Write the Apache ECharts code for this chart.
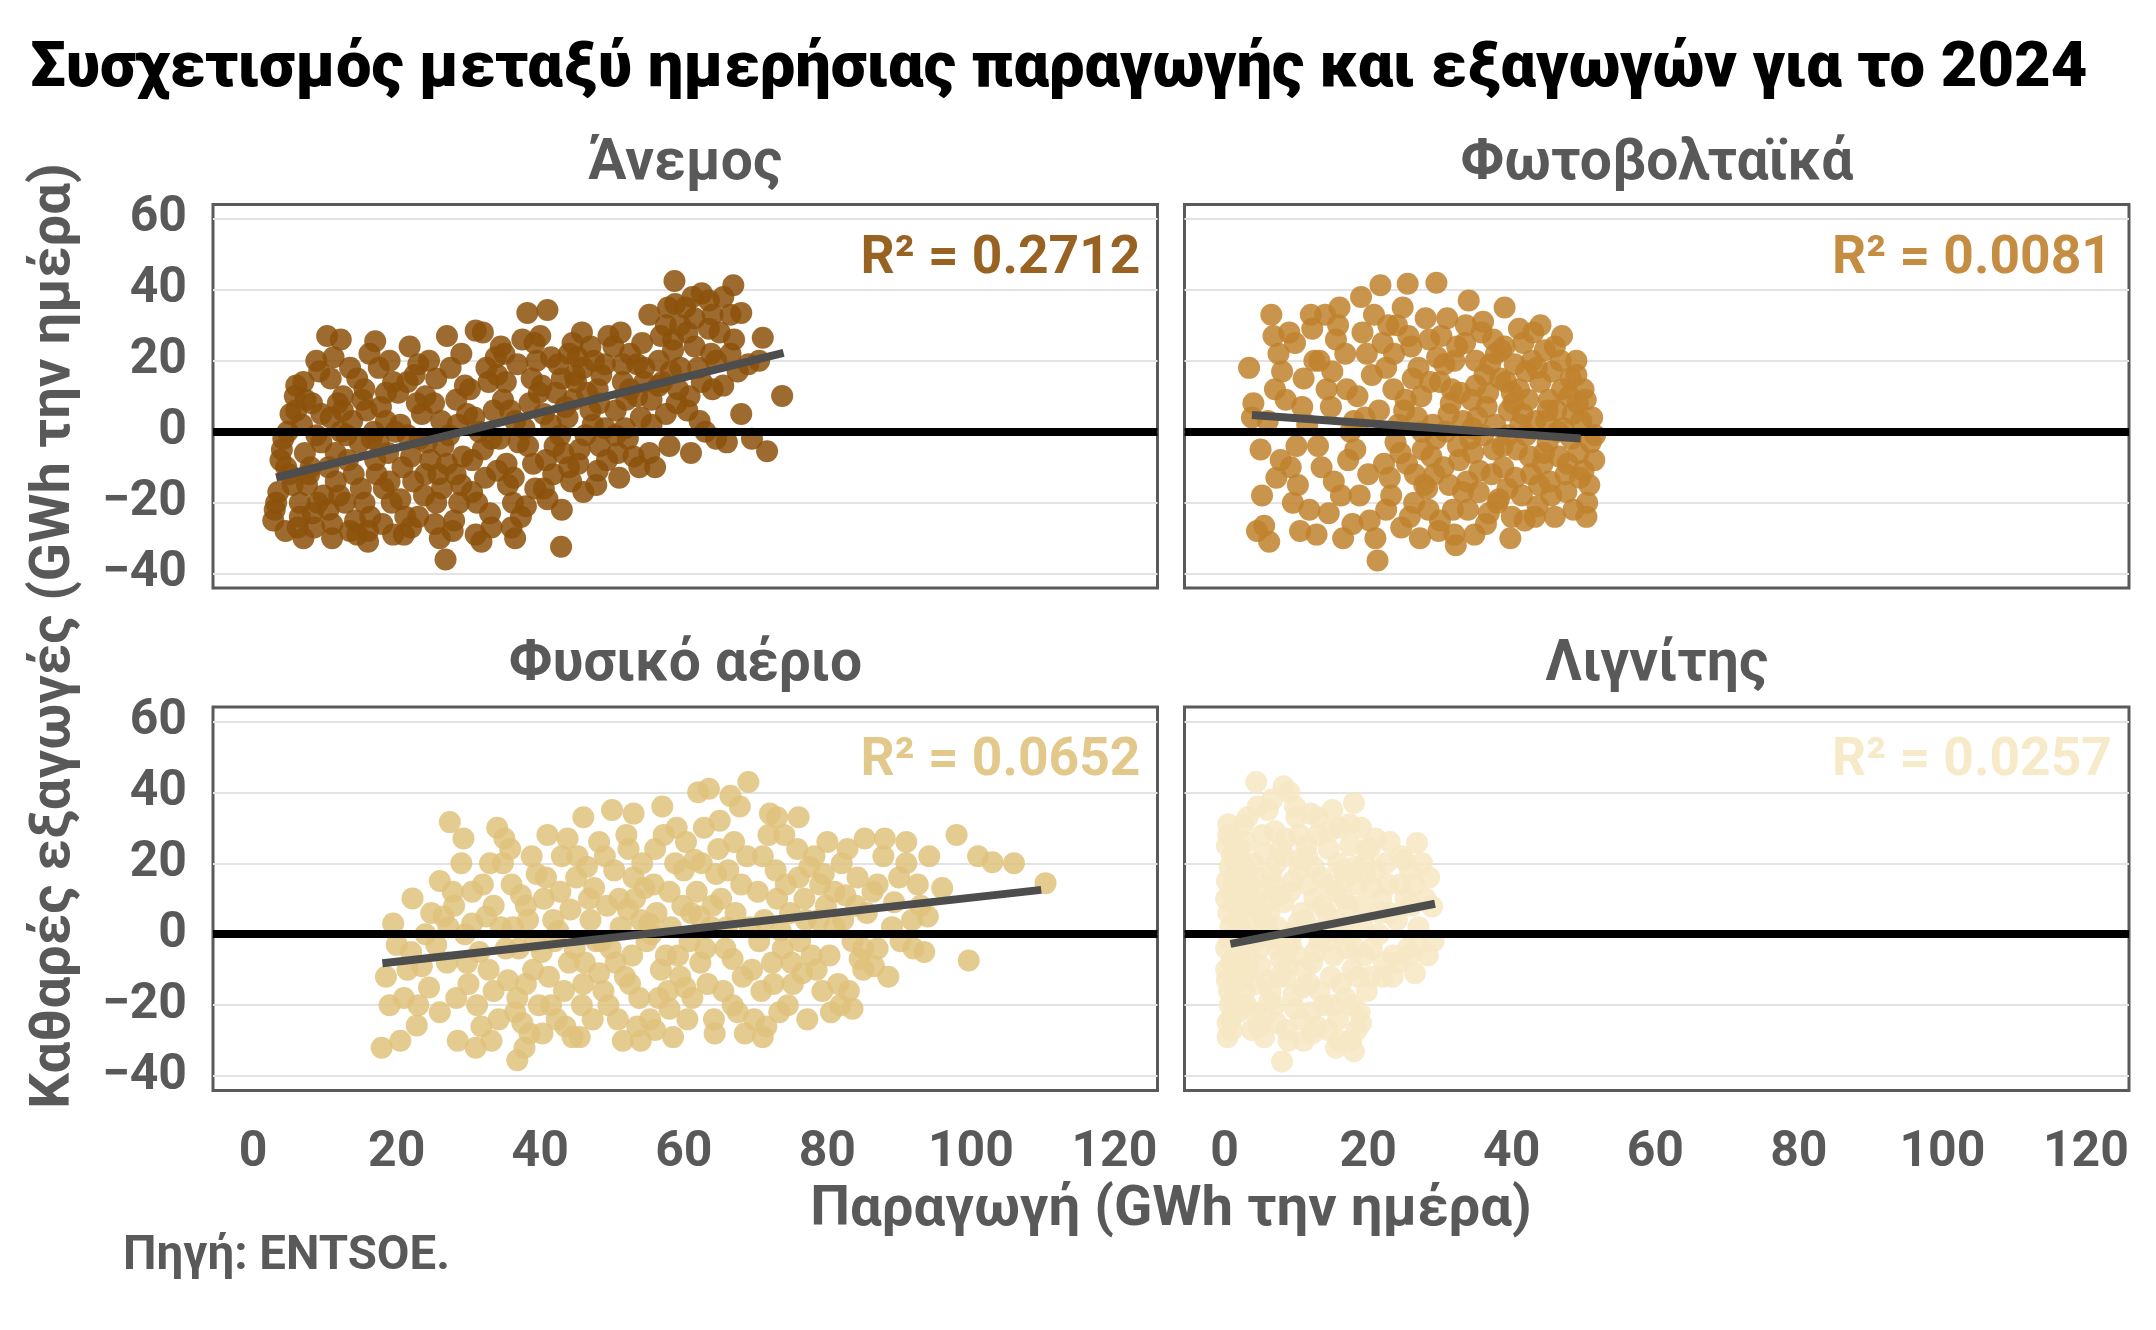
<!DOCTYPE html>
<html lang="el">
  <head>
    <meta charset="UTF-8" />
    <title>Συσχετισμός παραγωγής και εξαγωγών 2024</title>
    <script src="https://cdn.jsdelivr.net/npm/echarts@6/dist/echarts.min.js"></script>
    <style>
      html,
      body {
        margin: 0;
        padding: 0;
        background: #fff;
      }
      #scatterChart {
        width: 2156px;
        height: 1330px;
      }
    </style>
  </head>
  <body>
    <div id="scatterChart"></div>
    <script>
      // ---- data ----
      var panelNames = ['Άνεμος', 'Φωτοβολταϊκά', 'Φυσικό αέριο', 'Λιγνίτης'];
      var rSquared = ['0.2712', '0.0081', '0.0652', '0.0257'];
      var xTicks = [0, 20, 40, 60, 80, 100, 120];
      var yTicks = [-40, -20, 0, 20, 40, 60];

      // [παραγωγή GWh, καθαρές εξαγωγές GWh]
      var windPoints = [
        [3, -22], [4.5, -28], [2.8, -25], [3.5, -17], [5, -12], [4, -5], [5.2, 5], [6, 6], [4.8, 0], [3.8, -8], [6, 13],
        [7, -30], [8.5, -27], [6.5, -24], [9, -20], [7.5, -15], [8, -10], [9.5, -3], [6.8, 2], [8.2, 8], [7, 14], [9.2, 17], [8.8, 20], [9.8, -18], [7.2, -6],
        [11, -30], [13.5, -28], [10.5, -22], [12, -18], [14, -12], [11.5, -6], [13, -1], [10.8, 4], [12.5, 10], [14.5, 15], [11.2, 21], [10.3, 27], [12.2, 26], [14.2, -25], [13.8, 3], [11.8, 8],
        [16, -31], [18, -26], [15.5, -20], [19, -14], [17, -8], [16.5, -2], [18.5, 3], [15.2, 9], [19.5, 14], [17.5, 18], [16.2, 22], [17, 25.5], [18.2, -16], [19.8, 0], [15.8, 6],
        [21, -29], [23, -24], [20.5, -19], [24, -12], [22, -7], [21.5, -1], [23.5, 5], [20.2, 11], [22.5, 16], [24.5, 20], [21.8, 24], [24.2, -3], [22.8, 8],
        [26.8, -36], [26, -30], [28, -25], [25.5, -20], [29, -15], [27, -9], [26.5, -4], [28.5, 2], [25.2, 8], [29.5, 13], [27.5, 18], [27, 27], [28.2, -12], [29.8, 5],
        [31, -29], [33, -23], [30.5, -17], [34, -11], [32, -5], [31.5, 0], [33.5, 6], [30.2, 12], [32.5, 18], [34.5, 24], [31, 28.5], [32, 28], [33.2, -2], [34.8, 9],
        [36, -27], [38, -21], [35.5, -15], [39, -9], [37, -3], [36.5, 3], [38.5, 8], [35.2, 14], [39.5, 20], [37.5, 26], [38.2, 33.5], [36.2, -20], [39.8, 11],
        [42.9, -32.4], [43, -22], [40.5, -16], [44, -10], [42, -4], [41.5, 2], [43.5, 7], [40.2, 13], [42.5, 19], [44.5, 25], [41, 34.3], [40, 27], [43.2, -6], [44.8, 16],
        [46, -17], [48, -11], [45.5, -5], [49, 1], [47, 6], [46.5, 11], [48.5, 16], [45.2, 21], [49.5, 27], [47.5, 20], [48.2, 8],
        [51, -13], [53, -7], [50.5, -1], [54, 4], [52, 9], [51.5, 14], [53.5, 19], [50.2, 24], [54.5, 18], [52.5, 12], [51.8, 1],
        [56, -10], [58, -4], [55.5, 2], [59, 8], [57, 14], [56.5, 20], [58.5, 26], [55.2, 33], [57.8, 35], [59.5, 30], [58.2, 17],
        [61, -6], [63, 0], [60.5, 6], [64, 12], [62, 18], [61.5, 24], [63.5, 29], [60.2, 35], [62.5, 39], [58.7, 42.5], [64.5, -2],
        [66, -3], [68, 5], [65.5, 13], [69, 19], [67, 26], [66.5, 33], [68, 33.5], [66.9, 41.3], [69.5, -2],
        [71, 26.5], [73.7, 10.1], [71.6, -5.5], [70.5, 20],
        [3.2, -20], [5.5, -15], [4.2, -2], [6.5, -20], [7.8, -12], [8.8, -1], [5.8, 10], [9.5, 5], [6.2, -27], [8.3, -23], [4.6, -10], [7.3, 9],
        [10.5, -10], [11.5, -14], [12.8, -20], [13.2, -8], [14.8, -3], [15, -16], [16.3, -24], [17.2, -12], [18.8, -6], [19.3, -20], [10.8, 15], [12.2, 0],
        [13.5, 18], [15.5, 12], [16.8, 0], [17.8, 7], [18.5, 11], [19, 20], [11, -26], [14.5, -29], [16, -28], [19.5, -29], [12.5, 6], [17.5, -3],
        [20.8, -10], [21.2, -24], [22.3, -14], [23.2, -2], [24.7, -8], [25.3, -26], [26.3, -16], [27.3, -1], [28.7, -20], [29.2, -7], [20.5, 2],
        [21.5, 14], [23, 19], [24, 10], [25.5, 15], [26.2, 3], [28.3, 9], [29, 22], [22, -27], [27.8, -28], [23.8, -18], [25.8, -12],
        [30.5, -8], [31.2, -20], [32.3, -13], [33.2, -27], [34.3, -2], [35.3, -9], [36.3, -13], [37.3, -24], [38.3, -4], [39.3, -16], [30.8, 4],
        [32.8, 14], [33.8, 21], [35.8, 6], [36.8, 19], [37.8, 1], [38.8, 15], [39.2, 25], [31.8, -31], [35, 22], [34, 16], [36.5, -30],
        [40.8, -8], [41.8, -12], [42.8, -1], [43.8, 4], [44.3, -14], [45.3, -9], [46.3, -1], [47.3, 2], [48.3, -4], [49.3, -8], [40.5, 5], [41.5, 21],
        [42.2, 11], [43, 15], [44, 22], [45, 14], [46, 18], [47, 24], [48, 12], [49, 19], [45.8, 28], [44.6, 9], [47.8, -15], [41, -19],
        [50.5, 6], [51.5, 19], [52.5, 22], [53.5, 10], [54.5, 14], [55.5, 9], [56.5, 13], [57.5, 5], [58.5, 23], [59.5, 18], [50.8, -6], [52.2, -2],
        [53.8, -10], [55.2, -6], [56.8, 27], [57.5, 30], [58.8, 36], [59.2, 12], [54.2, 25], [51.2, 28],
        [60.5, 28], [61.5, 32], [62.5, 14], [63.5, 37], [64.5, 20], [65.5, 38], [66.5, 22], [67.5, 17], [60.8, 10], [62.2, 3], [63.8, 22], [64, 33],
        [61.2, 38], [65, 28]
      ];
      var solarPoints = [
        [3.4, 18], [5.5, -26.5], [4.5, -28], [6, 3], [7, 12], [5, -5], [6.5, 33], [7.5, 22], [4, 8], [7.8, -8], [6.2, -31], [3.8, 4], [7.2, -13],
        [9, 28], [10, -4], [11, 15], [12, 33], [9.5, -20], [12.5, 20], [10.5, -28], [8.5, 9], [11.5, 2], [12.8, -29], [10.2, -15], [9.8, 25],
        [14, 33], [16, 35], [15, 17], [14.5, -23], [16.5, -30], [17, 12], [13.5, -10], [15.5, 26], [17.5, 0], [16.2, -18], [14.8, 7], [13.2, 20], [17.8, -26],
        [21.7, 41.3], [19, 38], [21.3, -36.3], [20, -12], [18.5, 10], [22, 25], [19.5, 4], [22.5, -22], [20.5, 16], [18.2, -5], [21, -30], [22.8, 30], [19.8, 22],
        [25.5, 41.7], [24, 30], [26, 24], [27, 18], [23.5, 12], [25, 6], [27.5, 0], [24.5, -6], [26.5, -12], [23.2, -18], [25.8, -24], [27.2, -30], [24.8, 35], [26.2, 15], [23.8, -3], [27.8, -15], [25.2, 9],
        [29.5, 42], [31, 32], [28.5, 26], [32, 20], [30, 14], [31.5, 8], [29, 2], [32.5, -4], [30.5, -10], [28.2, -16], [31.8, -22], [29.8, -28], [32.2, -32], [30.2, 27], [32.8, 11], [28.8, -7], [31.2, 5],
        [34, 37], [36, 31], [33.5, 25], [37, 19], [35, 13], [36.5, 7], [34.5, 1], [37.5, -5], [35.5, -11], [33.2, -17], [36.8, -23], [34.8, -29], [37.8, 22], [35.2, 4], [33.8, -14], [36.2, 16], [34.2, -2],
        [39, 35], [41, 29], [38.5, 23], [42, 17], [40, 11], [41.5, 5], [39.5, -1], [42.5, -7], [40.5, -13], [38.2, -19], [41.8, -25], [39.8, -30], [42.8, 20], [40.2, 8], [38.8, -10], [41.2, 2], [39.2, 14],
        [44, 30], [46, 24], [43.5, 18], [47, 12], [45, 6], [46.5, 0], [44.5, -6], [47.5, -12], [45.5, -18], [43.2, -24], [46.8, 20], [44.8, 3], [47.8, -9], [45.2, 9], [43.8, -15],
        [49, 20], [50, 12], [48.5, 5], [51, -3], [49.5, -13], [50.5, -20], [48.2, 15], [51.5, -8], [49.2, 8],
        [5.2, -18], [6.8, 27], [8, 17], [9.2, -10], [10.8, 7], [11.8, -22], [12.2, 29], [13, -4], [14.2, 12], [15.2, -14], [15.8, 30], [16.8, 22],
        [17.2, -8], [18.8, -18], [19.2, 28], [20.2, -25], [21.5, 6], [22.2, -9], [18, 3], [20.8, 33],
        [22.5, 18], [23, -13], [23.6, 22], [24.2, 2], [24.6, -27], [25.4, -9], [25.6, 27], [26.4, -20], [26.8, 4], [27.4, 10], [27.6, -5], [28, 32],
        [28.4, -22], [28.6, 14], [29.2, -12], [29.6, 21], [29.4, -2], [30, -25], [30.8, 0], [30.6, 19],
        [31.3, -15], [31.6, 12], [32, -29], [32.4, 24], [32.7, -8], [33.2, 3], [33.6, 30], [33.9, -22], [34.4, 9], [34.6, -6], [35, 20], [35.4, -17],
        [35.8, 28], [36, -1], [36.4, -26], [36.7, 11], [37.2, -12], [37.4, 26], [37.7, 2], [38, -20], [38.4, 15], [38.7, -4], [39, 24], [39.4, -16],
        [39.6, 6], [40, -24], [40.4, 19],
        [40.7, -5], [41, 12], [41.4, -18], [41.6, 25], [42, -1], [42.3, 9], [42.7, -12], [43, 28], [43.3, 3], [43.6, -21], [44, 14], [44.3, -9],
        [44.6, 23], [45, -3], [45.3, -14], [45.6, 17], [46, -24], [46.2, 6], [46.6, -7], [47, 27], [47.2, 1], [47.6, -17], [48, 10], [48.3, -2],
        [48.6, -22], [49, 16], [49.3, -6], [49.7, 3], [50, -11], [50.3, 9], [50.8, -15], [51.2, 4], [51.6, -1], [50.4, -24]
      ];
      var gasPoints = [
        [17.9, -32], [20.5, -30], [22.8, -25.7], [19, -20], [18.5, -12], [20, -3], [19.5, 3], [22.2, 10.1], [21, -18], [23.5, -9], [24, 0],
        [27.4, 31.6], [26, 15], [28, 8], [29.5, 0], [27, -8], [30, -14], [28.5, -30], [31, -32], [29, 20], [26.5, 5], [31.5, -5], [30.5, 12],
        [34, 30], [35, 27], [33, 20], [36, 14], [38, 8], [34.5, 2], [37, -4], [39, -10], [33.5, -16], [36.5, -22], [38.5, -28], [36.8, -35.5], [39.5, 17], [35.5, -13], [32.5, 5], [37.5, -25],
        [41, 28], [43, 22], [45, 16], [40.5, 10], [47, 4], [42, -2], [44, -8], [46, -14], [41.5, -20], [43.5, -26], [45.5, -29], [47.5, 13], [40.2, -5], [46.5, 19], [42.5, 1],
        [50, 35], [52, 28], [49, 22], [53, 16], [51, 10], [54, 4], [48.5, -2], [50.5, -8], [52.5, -14], [49.5, -20], [53.5, -26], [51.5, -30], [54.5, 13], [48.2, -11], [52.2, 7],
        [57, 36], [59, 30], [56, 24], [60, 18], [58, 12], [61, 6], [55.5, 0], [57.5, -6], [59.5, -12], [56.5, -18], [60.5, -24], [58.5, -29], [61.5, 21], [55.2, 3], [60.2, -15],
        [69, 42.9], [63.5, 41], [65, 32], [67, 26], [62.5, 20], [68, 14], [64, 8], [66, 2], [63, -4], [69.5, -10], [65.5, -16], [67.5, -22], [68.5, -28], [64.5, 17], [62.2, 5], [66.8, -7],
        [72, 34], [74, 28], [71, 22], [76, 16], [73, 10], [77, 4], [70.5, -2], [75, -8], [72.5, -14], [74.5, -20], [71.5, -26], [77.5, 19], [73.5, 1], [76.5, -11],
        [80, 26], [82, 20], [79, 14], [84, 8], [81, 2], [85, -4], [78.5, -10], [83, -16], [80.5, -22], [82.5, 11], [84.5, -7], [79.5, 17],
        [88, 27], [91, 20], [87, 14], [93, 8], [89, 2], [92, -4], [86.5, -9], [90, 16], [94, 5],
        [98, 28], [101, 22], [103, 20.3], [96, 13], [99.7, -7.4],
        [110.4, 14.4], [106, 20],
        [21.5, -10], [23, -20], [24.5, -15], [25.5, -3], [26, -22], [27.2, 2], [28.3, -18], [29.8, -8], [22, -5], [24.8, 6], [27.8, 12], [29.3, 27],
        [30.5, 3], [31.2, -20], [32, 14], [32.8, -10], [33.5, 8], [34.2, -24], [34.8, 20], [35.2, -4], [36.2, 2], [36.8, -18], [37.3, 11], [38, -14],
        [38.8, 22], [39.2, -2], [39.8, -20], [31.8, -26], [33.2, -30], [35.8, 24], [37.8, -32], [38.3, 4],
        [40.8, 16], [41.2, -12], [41.8, 4], [42.3, -24], [42.8, 12], [43.3, -16], [44.2, 7], [44.8, -4], [45.2, 22], [45.8, -20], [46.2, -8], [46.8, 10],
        [47.3, -24], [47.8, -2], [48.2, 26], [48.8, -16], [49.3, 8], [49.8, -4], [43.8, 27], [40.3, -28], [46, 33], [44.5, -29],
        [50.3, 18], [50.8, -24], [51.2, 2], [51.8, -12], [52.3, 24], [52.8, -6], [53.2, 10], [53.8, -18], [54.2, 20], [54.8, -2], [55.3, -24], [55.8, 14],
        [56.2, 6], [56.8, -10], [57.2, 28], [57.8, -16], [58.2, 2], [58.8, 20], [59.2, -6], [59.8, 8], [53, 34], [56, -27], [54, -30], [58, -21],
        [60.3, 26], [60.8, -2], [61.2, -18], [61.8, 12], [62.3, -8], [62.8, 30], [63.3, -14], [63.8, 2], [64.2, -24], [64.8, 24], [65.2, 10], [65.8, -4],
        [66.2, 18], [66.8, -20], [67.2, 6], [67.8, 36], [68.2, -12], [68.8, 22], [69.2, 2], [69.8, -24], [62, 40], [66.5, 39], [64.3, -28],
        [70.3, 12], [70.8, -16], [71.2, 4], [71.8, 28], [72.3, -8], [72.8, 18], [73.3, -22], [73.8, -4], [74.2, 14], [74.8, 6], [75.2, -14], [75.8, 24],
        [76.2, -2], [76.8, 10], [77.2, -24], [77.8, -6], [78.2, 22], [78.8, 4], [79.3, -16], [79.8, 8], [73, 33], [76, 33], [71, -29],
        [80.3, -6], [81, 12], [81.5, -14], [82.2, 4], [82.8, 24], [83.5, -2], [84.2, 16], [85, -10], [85.5, 6], [86.3, 12], [87, -4], [87.8, 22],
        [88.5, -12], [89.3, 9], [90.2, -2], [91, 26], [91.8, 4], [92.6, 14], [93.5, -5], [94.2, 22], [83.5, -21], [81.8, -20], [85.2, 27]
      ];
      var lignitePoints = [
        [0.5, 28], [1, 22], [0.3, 15], [1.5, 8], [0.8, 2], [0.2, -4], [1.2, -10], [0.6, -16], [1.8, -22], [0.4, -29], [1.6, 18], [1.4, -7], [0.9, 12], [1.1, -19], [1.9, 5],
        [3, 26], [4.4, 42.9], [2.5, 20], [3.5, 14], [4, 8], [2.2, 2], [4.8, -4], [3.2, -10], [2.8, -16], [4.2, -22], [3.8, -27], [2.6, 31], [4.5, -1], [3.4, 11],
        [8.2, 41.7], [6, 35], [7, 29], [5.5, 23], [6.5, 17], [7.5, 11], [5.2, 5], [6.8, -1], [7.8, -7], [5.8, -13], [6.2, -19], [7.2, -25], [5.5, -29], [6.6, 38], [7.4, -4], [5.9, 9],
        [9, 40], [10, 33], [8.5, 27], [10.5, 21], [9.5, 15], [8.2, 9], [10.2, 3], [9.2, -3], [8.8, -9], [10.8, -15], [9.8, -21], [8.6, -27], [8, -35.9], [10.4, 18], [9.4, 0], [8.4, -12],
        [12, 34], [13, 28], [11.5, 22], [13.5, 16], [12.5, 10], [11.2, 4], [13.2, -2], [12.2, -8], [11.8, -14], [13.8, -20], [12.8, -26], [11.4, 25], [12.6, -5],
        [15, 35], [16, 30], [14.5, 24], [16.5, 18], [15.5, 12], [14.2, 6], [16.2, 0], [15.2, -6], [14.8, -12], [16.8, -18], [15.8, -24], [15.5, -32], [14.6, 14], [16.4, 2],
        [18, 37], [19, 30], [17.5, 25], [19.5, 20], [18.5, 14], [17.2, 8], [19.2, 2], [18.2, -4], [17.8, -10], [19.8, -16], [18.8, -22], [17.6, -30], [18.4, -27], [19.6, 17],
        [21, 27], [22.5, 20], [20.5, 13], [23, 6], [21.5, 0], [23.5, -6], [22, -12], [20.2, 24], [21.8, 10],
        [26.8, 25.7], [25, 21], [24.5, 14], [26, 8], [27, 2], [25.5, -4], [24.2, -8], [26.5, -11], [25.8, 18],
        [28.5, 16], [28.9, 7.8], [29.1, -2],
        [0.3, 25], [0.7, 19], [0.2, 10], [0.5, 6], [1.3, 0], [0.6, -2], [0.9, -8], [0.3, -13], [1.5, -14], [0.7, -20], [0.4, -25], [1, -27],
        [1.7, -3], [1.3, 14], [0.8, -24], [2, 24], [2.2, -6], [2.4, -20], [2.8, 8], [2.6, -12], [0.5, 31], [2.1, 15], [1.2, 27], [0.2, -10],
        [3.5, -6], [4, 20], [4.6, 16], [5, -9], [5.3, 28], [5.6, -23], [6, 1], [6.4, -16], [6.8, 14], [7.2, 20], [7.6, -12], [3, -20],
        [3.8, 4], [4.3, -14], [4.8, -26], [6.2, 6], [7, -20], [7.8, 24], [5, 12], [3.2, 33], [7.3, 2], [4.6, 36],
        [8.3, 22], [8.7, -4], [9.1, 12], [9.6, -17], [10, -6], [10.4, 28], [10.8, 6], [11.2, -10], [11.6, 14], [12, -22], [12.4, 19], [12.8, 1],
        [13.2, -16], [13.6, 8], [11, -30], [9.8, 36], [13, 33], [8.9, -30], [12.2, -28], [10.6, -24],
        [14.2, -2], [14.6, 29], [15, -20], [15.4, 4], [15.8, 20], [16.2, -14], [16.6, 10], [17, -4], [17.4, 31], [17.8, -20], [18.2, 19], [18.6, -12],
        [19, 8], [19.4, -6], [19.8, 24], [14.4, -27], [16, -30], [18, -33], [17, 16], [19, -25],
        [20.5, -4], [21, 18], [21.6, 6], [22.2, -8], [22.8, 14], [23.4, -12], [24, 4], [24.6, 22], [25.2, 10], [25.8, -6], [26.4, 14], [27, -3],
        [27.5, 20], [28, 10], [28.3, -6], [20.3, -12], [23, 26]
      ];
      var panelPoints = [windPoints, solarPoints, gasPoints, lignitePoints];

      // γραμμή τάσης: [αρχή, τέλος]
      var trendLines = [
        [[3.2, -12.9], [73.9, 22.2]],
        [[3.8, 4.7], [49.6, -1.9]],
        [[18, -8.2], [109.8, 12.5]],
        [[0.8, -2.7], [29.3, 8.6]]
      ];

      // ---- styling ----
      var FONT = 'Roboto';
      var GREY = '#595959';
      var panelColors = ['#8C510A', '#BF812D', '#DFC27D', '#F6E8C3'];
      var panelLeft = [213, 1184.5, 213, 1184.5];
      var panelTop = [204.5, 204.5, 707, 707];
      var panelW = 944.5;
      var panelH = 383.5;

      var measureCtx = document.createElement('canvas').getContext('2d');
      // font size that makes the text as wide as in the reference
      function fitSize(text, width, weight) {
        measureCtx.font = (weight || 'bold') + ' 100px ' + FONT;
        return (100 * width) / measureCtx.measureText(text).width;
      }

      var titleText = 'Συσχετισμός μεταξύ ημερήσιας παραγωγής και εξαγωγών για το 2024';
      var xTitle = 'Παραγωγή (GWh την ημέρα)';
      var yTitle = 'Καθαρές εξαγωγές (GWh την ημέρα)';
      var caption = 'Πηγή: ENTSOE.';

      var titleSize = fitSize(titleText, 2057, '900');
      var stripSize = fitSize('Φωτοβολταϊκά', 393);
      var tickSize = fitSize('120', 86);
      var axisTitleSize = fitSize(xTitle, 722);
      var captionSize = fitSize(caption, 327);
      var r2Size = fitSize('R² = 0.2712', 280);

      function tickLabel(list) {
        return function (v) {
          if (list.indexOf(v) < 0) return '';
          return v < 0 ? '\u2212' + Math.abs(v) : String(v);
        };
      }

      function textEl(text, x, y, size, color, align, extra, weight) {
        var el = {
          type: 'text',
          x: x,
          y: y,
          silent: true,
          style: {
            text: text,
            font: (weight || 'bold') + ' ' + size.toFixed(1) + 'px ' + FONT,
            fill: color,
            textAlign: align,
            textVerticalAlign: 'middle'
          }
        };
        for (var k in extra) el[k] = extra[k];
        return el;
      }

      var grids = [];
      var xAxes = [];
      var yAxes = [];
      var series = [];
      var graphics = [];

      for (var i = 0; i < 4; i++) {
        grids.push({
          left: panelLeft[i],
          top: panelTop[i],
          width: panelW,
          height: panelH,
          show: true,
          borderColor: '#5a5a5a',
          borderWidth: 3,
          backgroundColor: 'transparent',
          containLabel: false
        });
        xAxes.push({
          gridIndex: i,
          type: 'value',
          min: -5.6,
          max: 126,
          splitNumber: 6,
          axisLine: { show: false },
          axisTick: { show: false },
          splitLine: { show: false },
          axisLabel: {
            show: i >= 2,
            margin: 38,
            color: GREY,
            fontSize: tickSize,
            fontWeight: 'bold',
            fontFamily: FONT,
            formatter: tickLabel(xTicks)
          }
        });
        yAxes.push({
          gridIndex: i,
          type: 'value',
          min: -44.05,
          max: 64.05,
          splitNumber: 5,
          axisLine: { show: false },
          axisTick: { show: false },
          splitLine: {
            show: true,
            showMinLine: false,
            showMaxLine: false,
            lineStyle: { color: '#e3e3e3', width: 2 }
          },
          axisLabel: {
            show: i % 2 === 0,
            margin: 26,
            color: GREY,
            fontSize: tickSize,
            fontWeight: 'bold',
            fontFamily: FONT,
            formatter: tickLabel(yTicks)
          }
        });
        series.push({
          type: 'scatter',
          name: panelNames[i],
          xAxisIndex: i,
          yAxisIndex: i,
          data: panelPoints[i],
          symbolSize: 22,
          z: 2,
          silent: true,
          itemStyle: { color: panelColors[i], opacity: 0.85 },
          markLine: {
            silent: true,
            symbol: 'none',
            z: 5,
            label: { show: false },
            lineStyle: { color: '#000', width: 8, type: 'solid' },
            data: [{ yAxis: 0 }]
          }
        });
        series.push({
          type: 'line',
          xAxisIndex: i,
          yAxisIndex: i,
          data: trendLines[i],
          symbol: 'none',
          silent: true,
          z: 10,
          lineStyle: { color: '#4d4d4d', width: 8, cap: 'butt' }
        });

        // facet strip title
        graphics.push(
          textEl(panelNames[i], panelLeft[i] + panelW / 2, i < 2 ? 165 : 666, stripSize, GREY, 'center')
        );
        // R² annotation
        graphics.push(
          textEl('R² = ' + rSquared[i], panelLeft[i] + panelW - 17, panelTop[i] + 55, r2Size, panelColors[i], 'right', {
            style: {
              text: 'R² = ' + rSquared[i],
              font: 'bold ' + r2Size.toFixed(1) + 'px ' + FONT,
              fill: panelColors[i],
              opacity: 0.9,
              textAlign: 'right',
              textVerticalAlign: 'middle'
            }
          })
        );
      }

      graphics.push(textEl(titleText, 30, 70, titleSize, '#000', 'left', null, '900'));
      graphics.push(textEl(xTitle, 1171, 1211, axisTitleSize, GREY, 'center'));
      graphics.push(textEl(yTitle, 55, 636, axisTitleSize, GREY, 'center', { rotation: Math.PI / 2 }));
      graphics.push(textEl(caption, 123, 1257, captionSize, GREY, 'left'));

      var chart = echarts.init(document.getElementById('scatterChart'));
      chart.setOption({
        backgroundColor: '#fff',
        animation: false,
        grid: grids,
        xAxis: xAxes,
        yAxis: yAxes,
        series: series,
        graphic: graphics
      });
    </script>
  </body>
</html>
